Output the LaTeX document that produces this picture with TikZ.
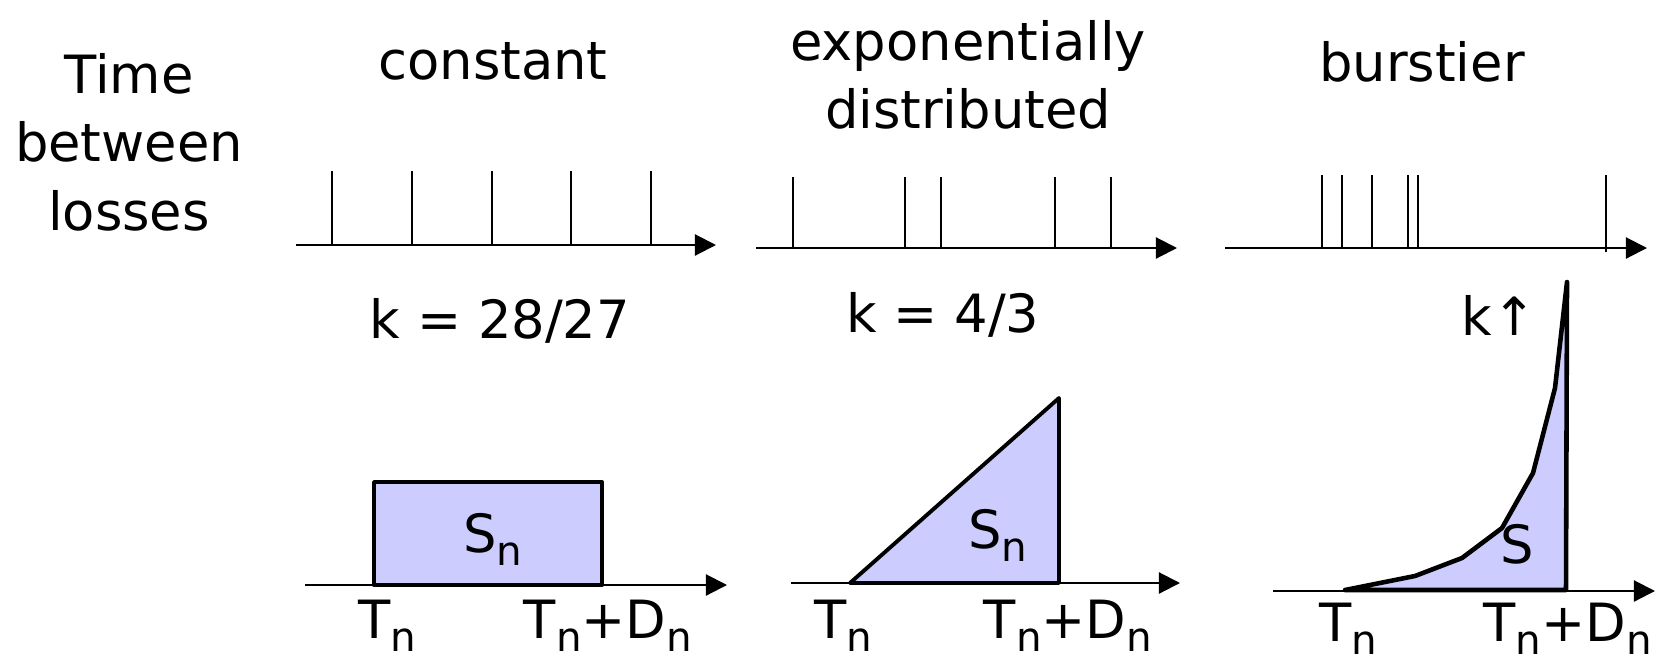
\documentclass[tikz,border=0pt]{standalone}
\usepackage{fontspec}
\setmainfont{DejaVu Sans}
\usetikzlibrary{arrows.meta}
\definecolor{areafill}{RGB}{204,204,255}
\newcommand{\lowsub}[1]{\raisebox{-0.26em}{\fontsize{11.5}{11.5}\selectfont #1}}

\begin{document}
\begin{tikzpicture}[x=0.1mm, y=-0.1mm, line width=0.6pt,
    lbl/.style={font=\fontsize{15}{19}\selectfont, inner sep=0pt, align=center},
    timeaxis/.style={-{Triangle[length=6pt, width=6pt]}, line width=0.6pt},
    losstick/.style={line width=0.6pt},
    area/.style={fill=areafill, draw=black, line width=1.1pt, line join=round}]
  \useasboundingbox (0,0) rectangle (1655,660);

  % column titles
  \node[lbl, anchor=base] (tbl1) at (129,93) {Time};
  \node[lbl, anchor=base] (tbl2) at (129,161) {between};
  \node[lbl, anchor=base] (tbl3) at (129,230) {losses};
  \node[lbl, anchor=base] (constant) at (493,79) {constant};
  \node[lbl, anchor=base] (expo1) at (968,60) {exponentially};
  \node[lbl, anchor=base] (expo2) at (968,128) {distributed};
  \node[lbl, anchor=base] (bursty) at (1422,81) {burstier};

  % loss times
  \coordinate (ta1) at (296,245); \coordinate (tb1) at (716,245);
  \coordinate (ta2) at (756,248); \coordinate (tb2) at (1177,248);
  \coordinate (ta3) at (1225,248); \coordinate (tb3) at (1647,248);
  \draw[timeaxis] (ta1) -- (tb1);
  \draw[timeaxis] (ta2) -- (tb2);
  \draw[timeaxis] (ta3) -- (tb3);
  \foreach \x in {332,412,492,571,651} \draw[losstick] (\x,245) -- (\x,171);
  \foreach \x in {793,905,941,1055,1111} \draw[losstick] (\x,248) -- (\x,177);
  \foreach \x in {1322,1342,1372,1408,1418} \draw[losstick] (\x,248) -- (\x,175);
  \draw[losstick] (1606,252) -- (1606,175);

  \node[lbl, anchor=base] (k1) at (500,338) {k = 28/27};
  \node[lbl, anchor=base] (k2) at (943,332) {k = 4/3};
  \node[lbl, anchor=base] (k3) at (1499,335) {k↑};

  % constant
  \coordinate (pa1) at (305,585); \coordinate (pb1) at (727,585);
  \draw[timeaxis] (pa1) -- (pb1);
  \draw[area] (374,482) rectangle (602,585);
  \node[lbl, anchor=base] (s1) at (493,552) {S\lowsub{n}};
  \node[lbl, anchor=base west] (t1) at (357,638) {T\lowsub{n}};
  \node[lbl, anchor=base] (d1) at (608,638) {T\lowsub{n}+D\lowsub{n}};

  % exponential
  \coordinate (pa2) at (791,583); \coordinate (pb2) at (1180,583);
  \draw[timeaxis] (pa2) -- (pb2);
  \draw[area] (850,583) -- (1059,583) -- (1059,398) -- cycle;
  \node[lbl, anchor=base] (s2) at (998,548) {S\lowsub{n}};
  \node[lbl, anchor=base west] (t2) at (813,638) {T\lowsub{n}};
  \node[lbl, anchor=base] (d2) at (1068,638) {T\lowsub{n}+D\lowsub{n}};

  % burstier
  \coordinate (pa3) at (1273,591); \coordinate (pb3) at (1655,591);
  \draw[timeaxis] (pa3) -- (pb3);
  \draw[area, line width=1.3pt] (1345,590) -- (1415,576) -- (1462,558) -- (1502,528)
    -- (1533,473) -- (1555,388) -- (1567,282) -- (1566,590) -- cycle;
  \node[lbl, anchor=base] (s3) at (1517,563) {S};
  \node[lbl, anchor=base west] (t3) at (1318,641) {T\lowsub{n}};
  \node[lbl, anchor=base east] (d3) at (1653,641) {T\lowsub{n}+D\lowsub{n}};
\end{tikzpicture}
\end{document}
